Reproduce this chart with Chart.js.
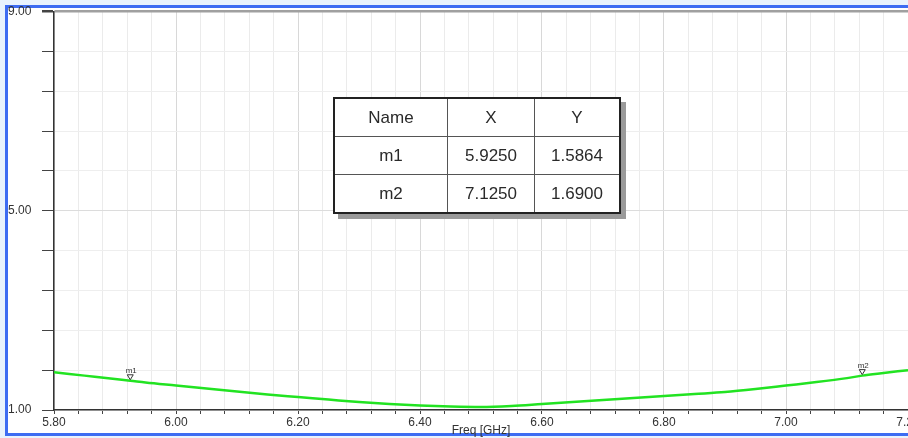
<!DOCTYPE html>
<html>
<head>
<meta charset="utf-8">
<script src="https://cdn.jsdelivr.net/npm/chart.js@4.4.1/dist/chart.umd.min.js"></script>
<style>
  html, body { margin: 0; padding: 0; background: #e9f3fd; overflow: hidden; width: 908px; height: 438px; }
  #frame { position: absolute; left: 5px; top: 5px; width: 900px; height: 425px; background: #fff;
           border-left: 3px solid #3d6cf2; border-top: 3px solid #3d6cf2; border-bottom: 3px solid #3d6cf2; }
  #chart { position: absolute; left: 0; top: 0; }
  #markers { position: absolute; left: 333px; top: 97px; border-collapse: collapse;
             font-family: Arial, "Liberation Sans", sans-serif; font-size: 17px; color: #2a2a2a;
             background: #fff; border: 2px solid #222; box-shadow: 5px 5px 0 #9a9a9a; }
  #markers td { border: 1px solid #555; text-align: center; padding: 0; height: 37px; }
</style>
</head>
<body>
<div id="frame"></div>
<canvas id="chart" width="908" height="438"></canvas>
<table id="markers"></table>
<script>
// curve values
const freq = [5.80, 5.85, 5.90, 5.925, 5.95, 6.00, 6.05, 6.10, 6.15, 6.20, 6.25, 6.30, 6.35, 6.40,
    6.45, 6.50, 6.55, 6.60, 6.65, 6.70, 6.75, 6.80, 6.85, 6.90, 6.95, 7.00, 7.05, 7.10, 7.125, 7.15, 7.20];
const yValues = [1.76, 1.69, 1.62, 1.5864, 1.55, 1.49, 1.43, 1.37, 1.31, 1.26, 1.21, 1.16, 1.12, 1.09,
    1.07, 1.06, 1.08, 1.12, 1.16, 1.20, 1.24, 1.28, 1.32, 1.36, 1.42, 1.49, 1.56, 1.64, 1.69, 1.73, 1.80];

// markers
const markerNames = ['m1', 'm2'];
const markerX = [5.9250, 7.1250];
const markerY = [1.5864, 1.6900];

// axis ticks
const xTicks = [];
for(let i = 0; i <= 35; i++){ xTicks.push(Math.round((5.80 + i * 0.04) * 100) / 100); }
const xLabels = ['5.80', '6.00', '6.20', '6.40', '6.60', '6.80', '7.00', '7.20'];
const yTicks = [1.0, 1.8, 2.6, 3.4, 4.2, 5.0, 5.8, 6.6, 7.4, 8.2, 9.0];
const yLabels = ['1.00', '5.00', '9.00'];

/*
 * Marker table
 */
const table = document.getElementById('markers');
let rows = '<tr><td style="width:112px">Name</td><td style="width:86px">X</td><td style="width:84px">Y</td></tr>';
for(let i = 0; i < markerNames.length; i++){
    rows += `<tr><td>${markerNames[i]}</td><td>${markerX[i].toFixed(4)}</td><td>${markerY[i].toFixed(4)}</td></tr>`;
}
table.innerHTML = rows;

const isMajorX = v => Math.abs(v * 5 - Math.round(v * 5)) < 1e-6;

const markerPlugin = {
    id: 'markerPlugin',
    afterDatasetsDraw(chart){
        const ctx = chart.ctx;
        const xs = chart.scales.x, ys = chart.scales.y;
        ctx.save();
        for(let i = 0; i < markerNames.length; i++){
            const px = xs.getPixelForValue(markerX[i]);
            const py = ys.getPixelForValue(markerY[i]);
            ctx.beginPath();
            ctx.moveTo(px, py - 1);
            ctx.lineTo(px - 3, py - 6);
            ctx.lineTo(px + 3, py - 6);
            ctx.closePath();
            ctx.fillStyle = '#fff';
            ctx.fill();
            ctx.strokeStyle = '#333';
            ctx.lineWidth = 1;
            ctx.stroke();
            ctx.fillStyle = '#333';
            ctx.font = '8px Arial, "Liberation Sans"';
            ctx.textAlign = 'center';
            ctx.textBaseline = 'bottom';
            ctx.fillText(markerNames[i], px + 1, py - 6);
        }
        ctx.restore();
    }
};

new Chart(document.getElementById('chart'), {
    type: 'line',
    data: {
        datasets: [{
            data: freq.map((f, i) => ({x: f, y: yValues[i]})),
            borderColor: '#22e322',
            borderWidth: 2.5,
            pointRadius: 0,
            cubicInterpolationMode: 'monotone',
            fill: false
        }]
    },
    options: {
        responsive: false,
        animation: false,
        layout: { autoPadding: false, padding: { left: 8, top: 11.5, right: 0, bottom: 0 } },
        plugins: { legend: { display: false }, tooltip: { enabled: false } },
        scales: {
            x: {
                type: 'linear',
                min: 5.80,
                max: 7.20,
                afterFit: scale => {
                    scale.height = 28;
                    scale.paddingLeft = 0;
                    scale.paddingRight = 0;
                },
                afterBuildTicks: scale => { scale.ticks = xTicks.map(v => ({value: v})); },
                ticks: {
                    autoSkip: false,
                    maxRotation: 0,
                    padding: 1,
                    color: '#333',
                    font: { family: 'Arial, "Liberation Sans"', size: 12 },
                    callback: v => xLabels.includes(v.toFixed(2)) ? v.toFixed(2) : ''
                },
                grid: {
                    tickLength: 4,
                    color: ctx => isMajorX(ctx.tick.value) ? '#d8d8d8' : '#ebebeb',
                    tickColor: '#444'
                },
                border: { color: '#333', width: 1.5 },
                title: {
                    display: true,
                    text: 'Freq [GHz]',
                    color: '#333',
                    padding: 0,
                    font: { family: 'Arial, "Liberation Sans"', size: 12 }
                }
            },
            y: {
                min: 1,
                max: 9,
                afterFit: scale => { scale.width = 46; },
                afterBuildTicks: scale => { scale.ticks = yTicks.map(v => ({value: v})); },
                ticks: {
                    autoSkip: false,
                    crossAlign: 'far',
                    color: '#333',
                    font: { family: 'Arial, "Liberation Sans"', size: 12 },
                    callback: v => yLabels.includes(v.toFixed(2)) ? v.toFixed(2) : ''
                },
                grid: {
                    tickLength: 12,
                    color: ctx => ctx.tick.value === 9 ? '#a0a0a0' : (ctx.tick.value === 5 ? '#dcdcdc' : '#eeeeee'),
                    lineWidth: ctx => ctx.tick.value === 9 ? 2.5 : 1,
                    tickColor: '#444'
                },
                border: { color: '#333', width: 1.5 }
            }
        }
    },
    plugins: [markerPlugin]
});
</script>
</body>
</html>
